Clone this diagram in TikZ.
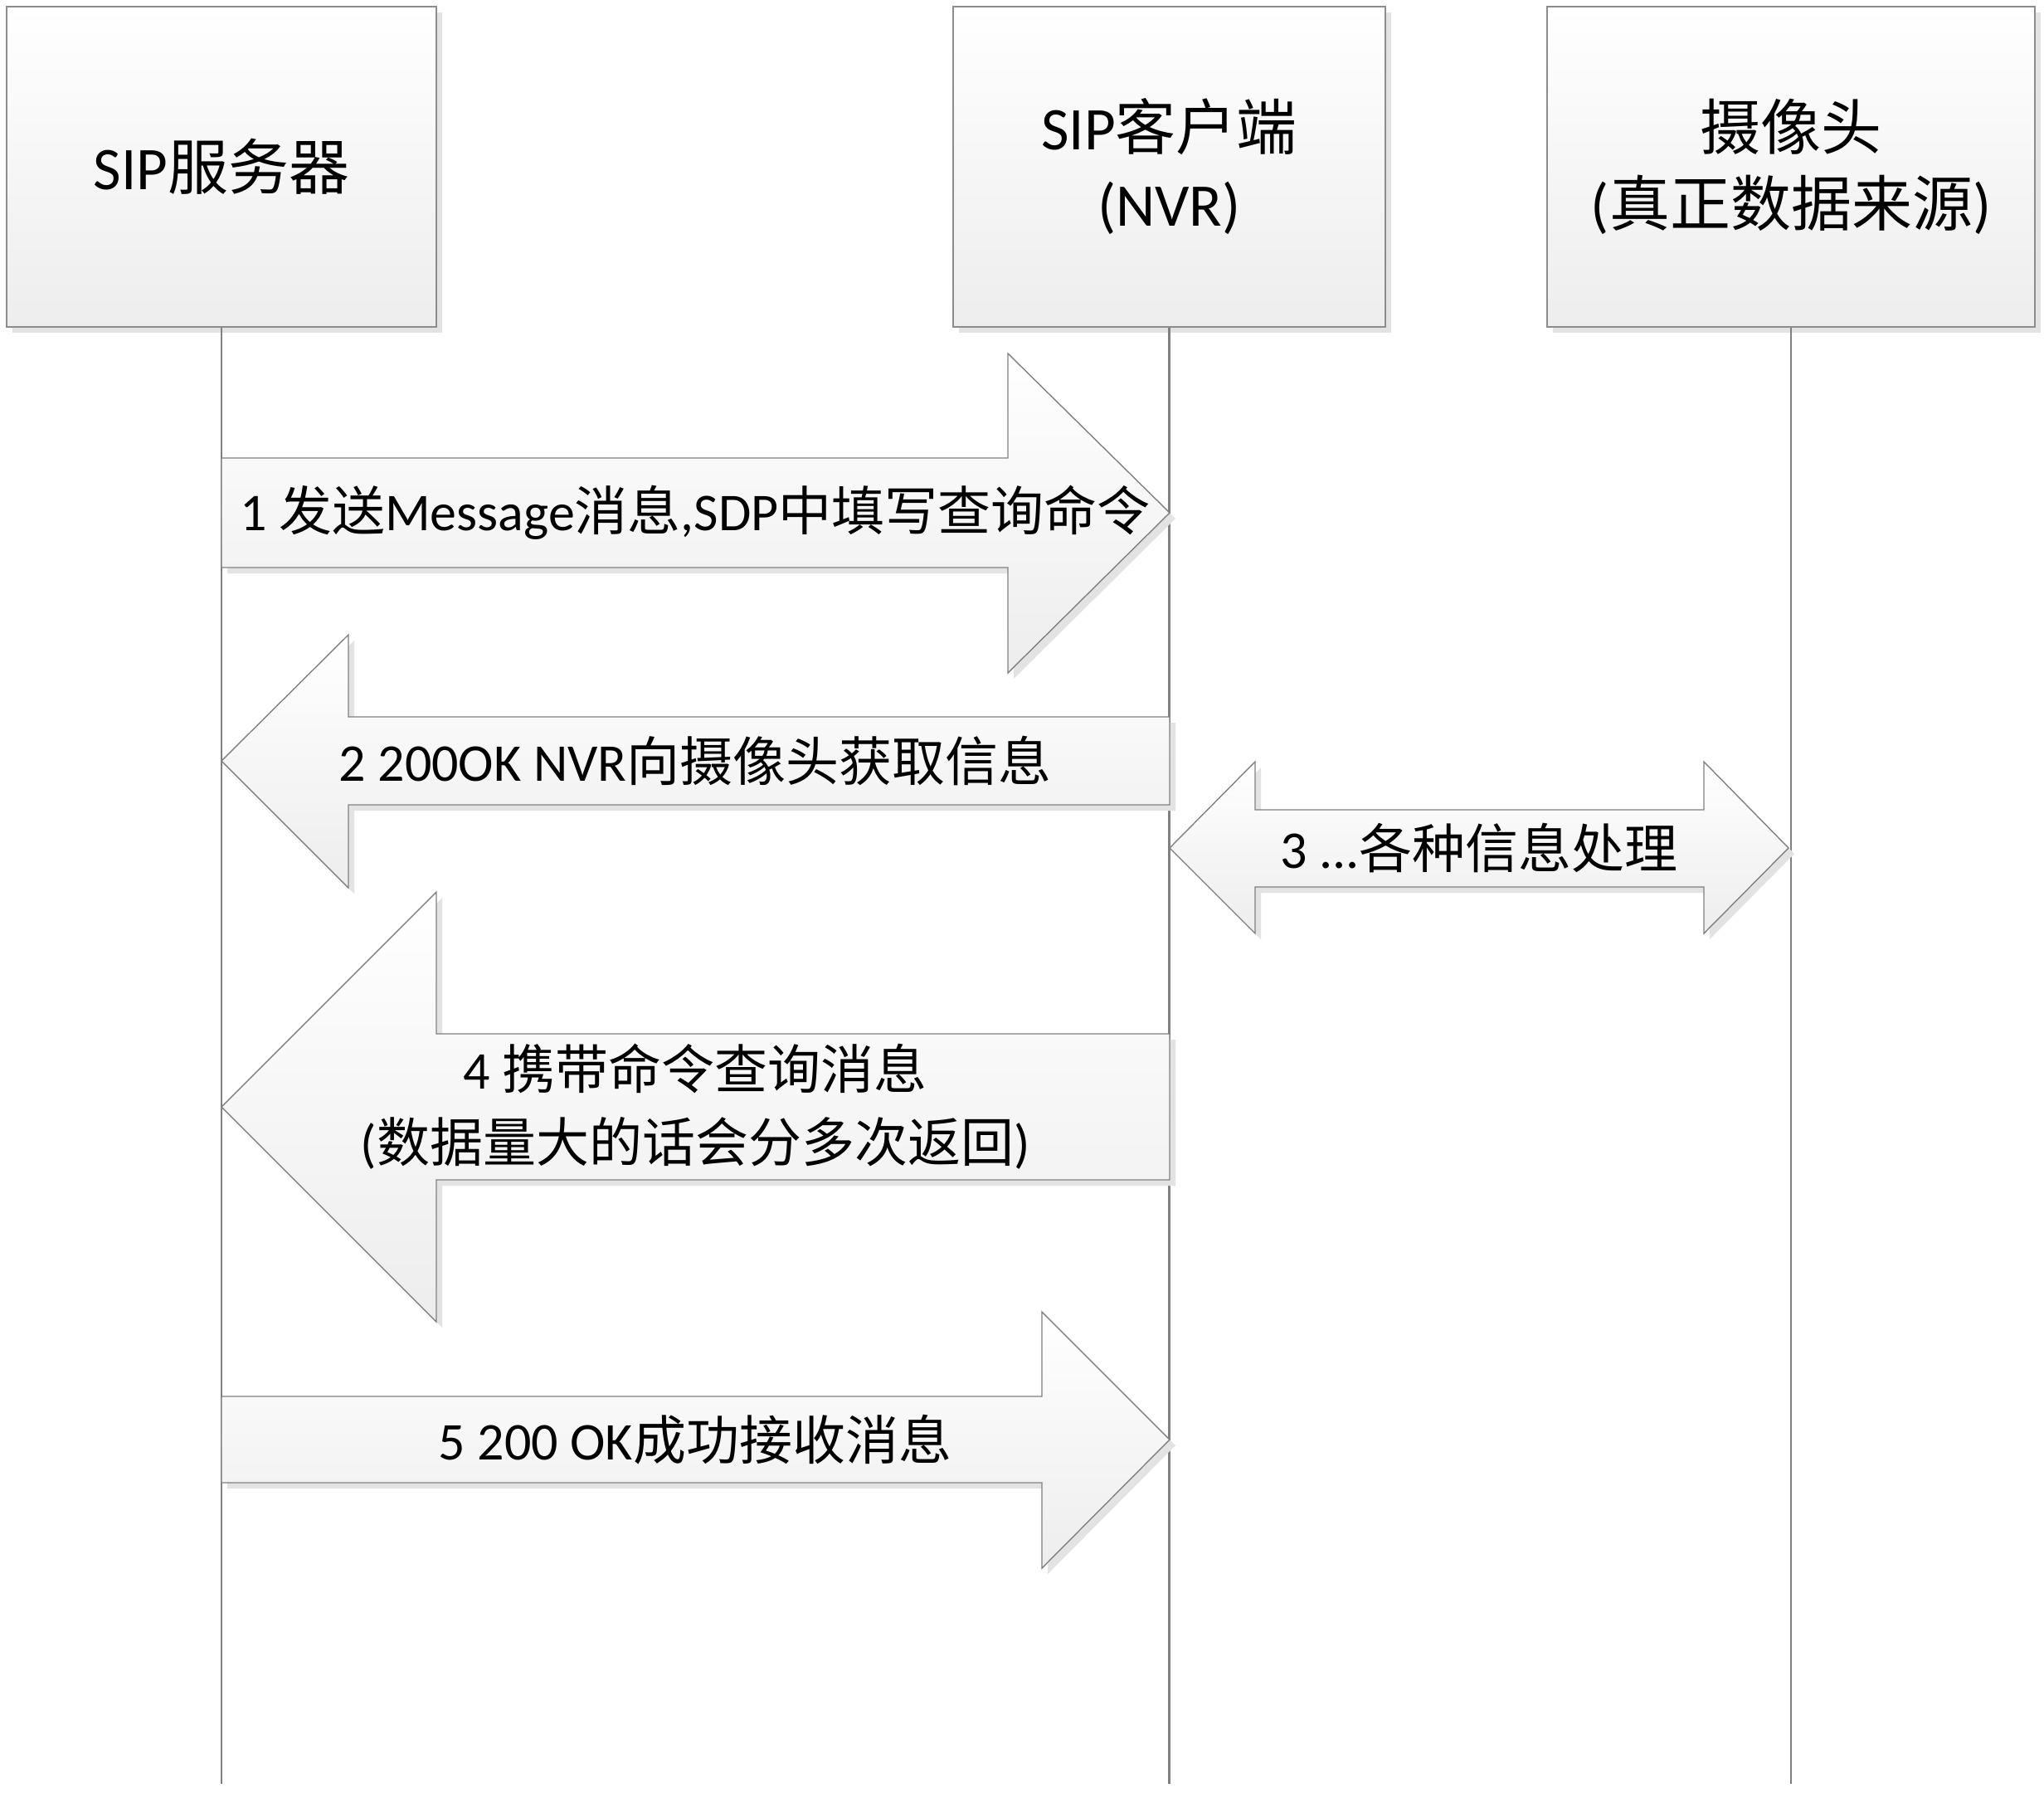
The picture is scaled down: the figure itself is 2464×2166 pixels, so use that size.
\documentclass[tikz,border=0pt]{standalone}
\usepackage{fontspec}
\setmainfont{Carlito}
\newfontfamily\cjk{Noto Sans CJK SC}
\newcommand\zh[1]{{\cjk #1}}
\usetikzlibrary{shadows}

\begin{document}
\begin{tikzpicture}[x=0.25pt, y=-0.25pt,
  softshadow/.style={drop shadow={shadow xshift=1.75pt, shadow yshift=-1.75pt, fill=black!11, opacity=1}},
  actor/.style={draw=black!45, line width=0.6pt, top color=white, bottom color=black!7,
    minimum width=#1, minimum height=96.5pt, inner sep=0pt, align=center,
    font=\fontsize{18.25pt}{23pt}\selectfont, softshadow},
  lifeline/.style={draw=black!50, line width=0.6pt},
  lifeshade/.style={draw=black!9, line width=0.6pt, xshift=1.75pt},
  blockarrow/.style={draw=black!50, line width=0.35pt, top color=white, bottom color=black!7, softshadow},
  msg/.style={align=center, inner sep=0pt, font=\fontsize{16pt}{22pt}\selectfont}
]
\useasboundingbox (0,0) rectangle (2464,2166);
\fill[white] (0,0) rectangle (2464,2166);

% participants
\node[actor=129.5pt] (b1) at (267,201) {SIP\zh{服务器}};
\node[actor=130.25pt] (b2) at (1409.5,201) {SIP\zh{客户端}\\(NVR)};
\node[actor=147pt] (b3) at (2159,201) {\zh{摄像头}\\(\zh{真正数据来源})};

% lifelines
\coordinate (bottom) at (0,2150);
\coordinate (e1) at (b1.south |- bottom);
\coordinate (e2) at (b2.south |- bottom);
\coordinate (e3) at (b3.south |- bottom);
\draw[lifeshade] (b1.south) -- (e1);
\draw[lifeshade] (b2.south) -- (e2);
\draw[lifeshade] (b3.south) -- (e3);
\draw[lifeline] (b1.south) -- (e1);
\draw[lifeline] (b2.south) -- (e2);
\draw[lifeline] (b3.south) -- (e3);

% 1: server -> client
\path[blockarrow] (267,552) -- (1215,552) -- (1215,426) -- (1410,618)
  -- (1215,811) -- (1215,684) -- (267,684) -- cycle;
\node[msg] (m1) at (838,618) {1 \zh{发送}Message\zh{消息},SDP\zh{中填写查询命令}};

% 2: client -> server
\path[blockarrow] (1410,864) -- (420,864) -- (420,765) -- (267,917)
  -- (420,1070) -- (420,970) -- (1410,970) -- cycle;
\node[msg] (m2) at (838,917) {2 200OK NVR\zh{向摄像头获取信息}};

% 3: client <-> camera
\path[blockarrow] (1410,1022) -- (1513,918) -- (1513,976) -- (2054,976)
  -- (2054,918) -- (2156,1022) -- (2054,1125) -- (2054,1069)
  -- (1513,1069) -- (1513,1125) -- cycle;
\node[msg] (m3) at (1783,1022) {3 ...\zh{各种信息处理}};

% 4: client -> server
\path[blockarrow] (1410,1246) -- (526,1246) -- (526,1075) -- (267,1334)
  -- (526,1593) -- (526,1422) -- (1410,1422) -- cycle;
\node[msg] (m4) at (838,1334) {4 \zh{携带命令查询消息}\\(\zh{数据量大的话会分多次返回})};

% 5: server -> client
\path[blockarrow] (267,1683) -- (1256,1683) -- (1256,1581) -- (1410,1735)
  -- (1256,1890) -- (1256,1787) -- (267,1787) -- cycle;
\node[msg] (m5) at (838,1735) {5 200 OK\zh{成功接收消息}};
\end{tikzpicture}
\end{document}
